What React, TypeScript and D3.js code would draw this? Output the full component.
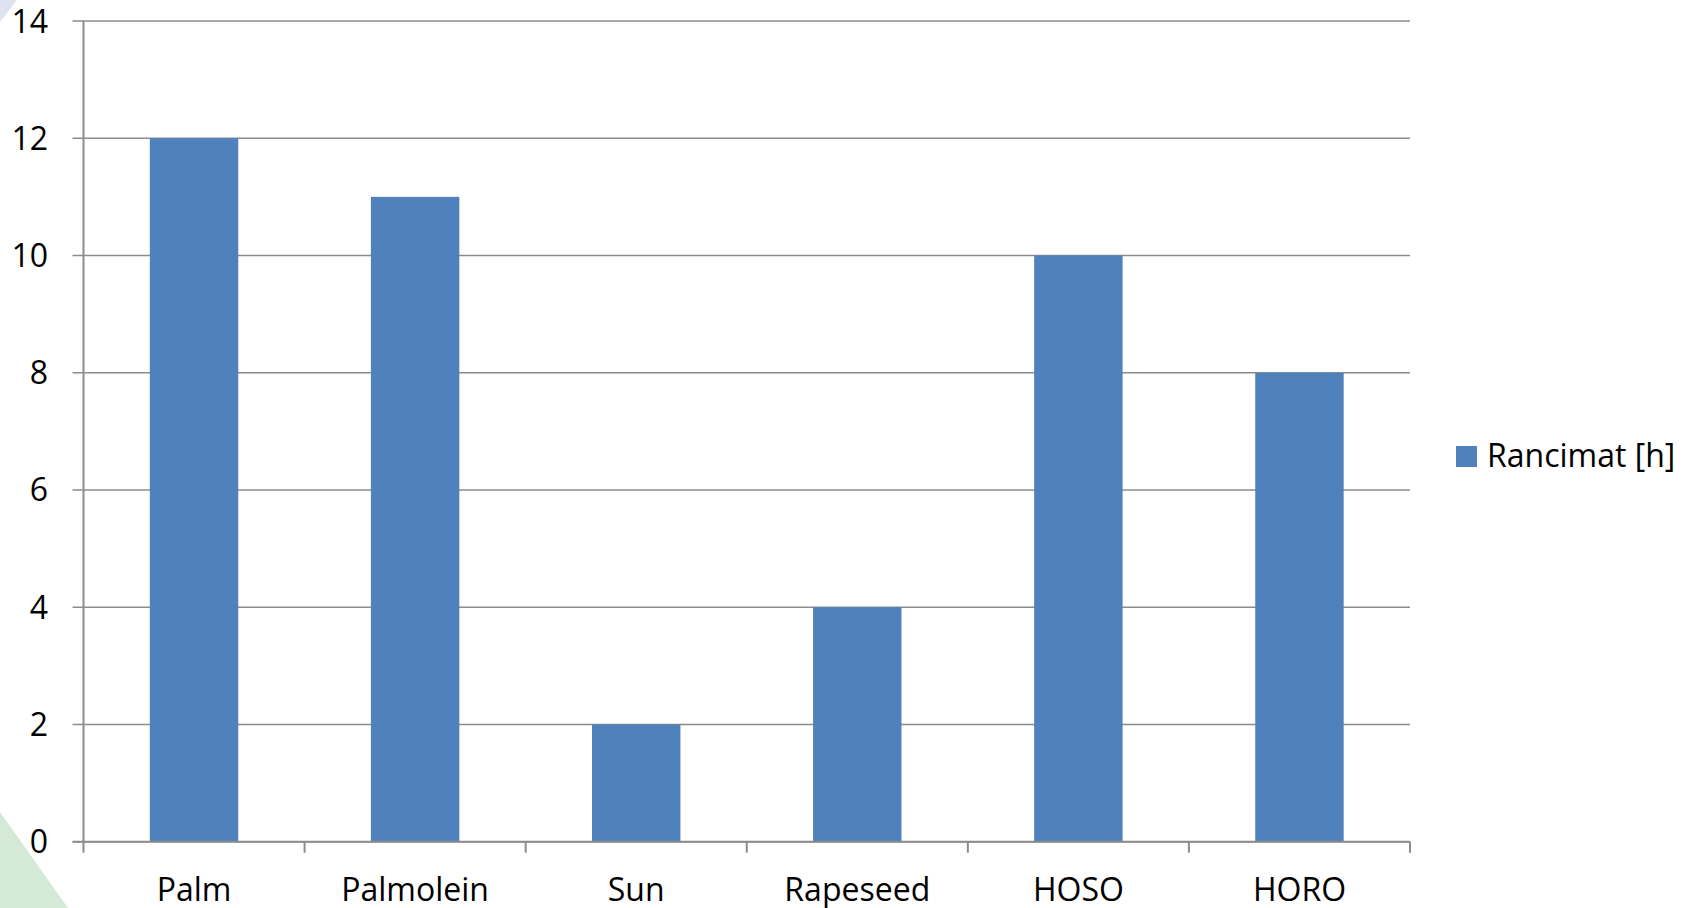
import React from "react";
import * as d3 from "d3";

// Oxidative stability of vegetable oils (Rancimat induction time, hours)
const categories: string[] = ["Palm", "Palmolein", "Sun", "Rapeseed", "HOSO", "HORO"];
const rancimatHours: number[] = [12, 11, 2, 4, 10, 8];
const yTicks: number[] = [0, 2, 4, 6, 8, 10, 12, 14];
const seriesName = "Rancimat [h]";

const W = 1696;
const H = 908;
const left = 83.5;
const right = 1410;
const top = 21;
const bottom = 841.7;

const FONT = "'Open Sans', sans-serif";
const FS = 32;
const BAR = "#4F81BD";
const GRID = "#8c8c8c";

export default function App() {
  const x = d3.scaleBand<string>().domain(categories).range([left, right]).padding(0);
  const y = d3.scaleLinear().domain([0, 14]).range([bottom, top]);
  const bw = x.bandwidth() * 0.4;
  const boundaries = categories.map((c) => x(c) as number).concat([right]);

  return (
    <svg
      width={W}
      height={H}
      style={{ position: "fixed", left: 0, top: 0, background: "#fff" }}
      fontFamily={FONT}
    >
      {/* corner decorations */}
      <polygon points={`0,0 17,0 0,22`} fill="#dfe2ef" />
      <polygon points={`0,812 68,908 0,908`} fill="#d5e9d7" />

      {/* horizontal gridlines and y ticks */}
      {yTicks.map((t) => (
        <g key={t}>
          <line x1={left - 11} x2={right} y1={y(t)} y2={y(t)} stroke={GRID} strokeWidth={1.5} />
          <text
            x={48}
            y={y(t)}
            dy="0.36em"
            textAnchor="end"
            fontSize={FS}
            fill="#000"
          >
            {t}
          </text>
        </g>
      ))}

      {/* bars */}
      {categories.map((c, i) => {
        const cx = (x(c) as number) + x.bandwidth() / 2;
        return (
          <rect
            key={c}
            x={cx - bw / 2}
            y={y(rancimatHours[i])}
            width={bw}
            height={y(0) - y(rancimatHours[i])}
            fill={BAR}
          />
        );
      })}

      {/* axes */}
      <line x1={left} x2={left} y1={top} y2={bottom} stroke={GRID} strokeWidth={2} />
      <line x1={left - 11} x2={right} y1={bottom} y2={bottom} stroke={GRID} strokeWidth={2} />
      {boundaries.map((bx, i) => (
        <line key={i} x1={bx} x2={bx} y1={bottom} y2={bottom + 11} stroke={GRID} strokeWidth={2} />
      ))}

      {/* category labels */}
      {categories.map((c) => (
        <text
          key={c}
          x={(x(c) as number) + x.bandwidth() / 2}
          y={901}
          textAnchor="middle"
          fontSize={FS}
          fill="#000"
        >
          {c}
        </text>
      ))}

      {/* legend */}
      <rect x={1456} y={446} width={21} height={21} fill={BAR} />
      <text x={1487} y={467} fontSize={FS} fill="#000">
        {seriesName}
      </text>
    </svg>
  );
}
